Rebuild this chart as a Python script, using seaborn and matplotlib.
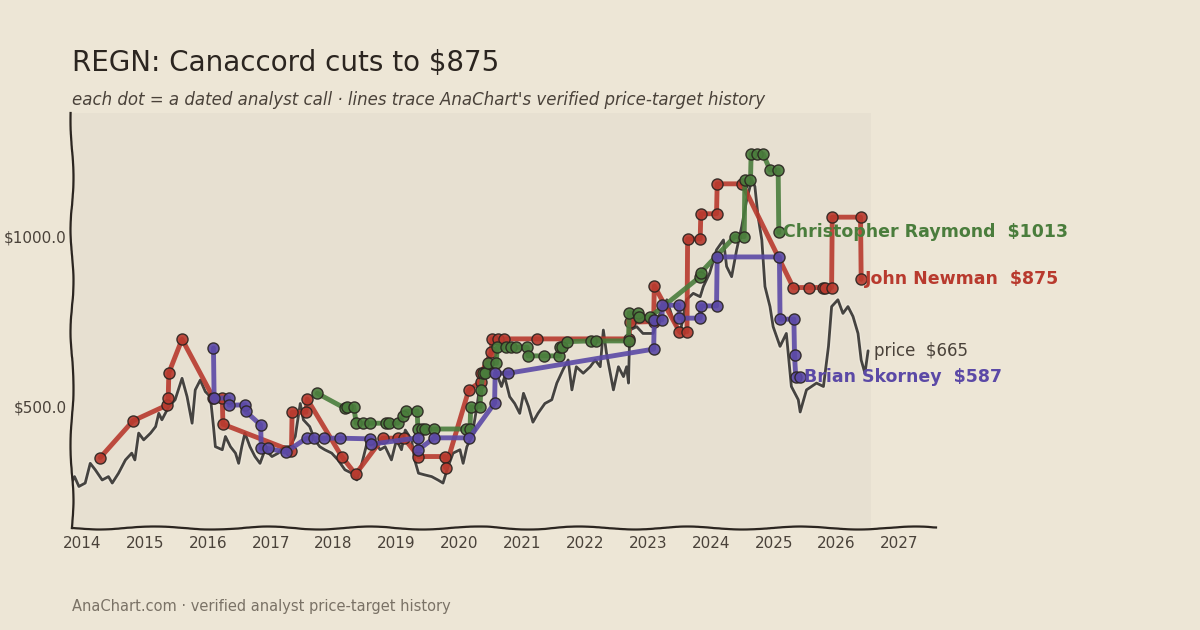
import pandas as pd
import seaborn as sns
import matplotlib.pyplot as plt
import matplotlib.patheffects as pe

# Colours
BG = '#ede6d6'
PANEL = '#e7e0d1'
INK = '#2b2520'
RED = '#b83a2e'
GREEN = '#4a7d3c'
PURPLE = '#5b49a6'

# Daily close (decimal years, USD)
price_dates = [2013.84, 2013.88, 2013.95, 2014.05, 2014.13, 2014.21, 2014.32, 2014.42, 2014.48, 2014.58,
               2014.69, 2014.79, 2014.84, 2014.90, 2014.98, 2015.09, 2015.17, 2015.22, 2015.27, 2015.38,
               2015.48, 2015.59, 2015.67, 2015.75, 2015.80, 2015.88, 2015.96, 2016.04, 2016.09, 2016.12,
               2016.23, 2016.28, 2016.36, 2016.44, 2016.49, 2016.54, 2016.59, 2016.67, 2016.75, 2016.83,
               2016.91, 2017.02, 2017.12, 2017.20, 2017.31, 2017.39, 2017.47, 2017.52, 2017.62, 2017.70,
               2017.78, 2017.86, 2017.97, 2018.07, 2018.18, 2018.29, 2018.37, 2018.45, 2018.53, 2018.63,
               2018.74, 2018.82, 2018.92, 2019.00, 2019.08, 2019.14, 2019.24, 2019.29, 2019.35, 2019.45,
               2019.56, 2019.66, 2019.74, 2019.82, 2019.90, 2020.01, 2020.06, 2020.12, 2020.20, 2020.28,
               2020.33, 2020.41, 2020.51, 2020.57, 2020.67, 2020.72, 2020.80, 2020.88, 2020.96, 2021.02,
               2021.10, 2021.17, 2021.25, 2021.36, 2021.47, 2021.55, 2021.65, 2021.73, 2021.79, 2021.86,
               2021.97, 2022.08, 2022.16, 2022.24, 2022.29, 2022.34, 2022.45, 2022.53, 2022.61, 2022.66,
               2022.69, 2022.71, 2022.82, 2022.92, 2023.08, 2023.19, 2023.30, 2023.40, 2023.51, 2023.61,
               2023.72, 2023.83, 2023.88, 2023.98, 2024.09, 2024.20, 2024.25, 2024.33, 2024.41, 2024.49,
               2024.57, 2024.65, 2024.70, 2024.75, 2024.81, 2024.86, 2024.94, 2024.99, 2025.10, 2025.20,
               2025.28, 2025.39, 2025.42, 2025.52, 2025.68, 2025.79, 2025.87, 2025.92, 2026.02, 2026.10,
               2026.18, 2026.26, 2026.34, 2026.39, 2026.45, 2026.50]
price_values = [280, 295, 266, 276, 334, 315, 285, 295, 276, 305,
                344, 364, 344, 423, 403, 423, 442, 481, 462, 501,
                521, 584, 530, 452, 550, 579, 545, 530, 442, 383,
                374, 413, 383, 364, 334, 383, 423, 383, 354, 334,
                374, 354, 364, 383, 383, 413, 510, 462, 442, 403,
                383, 374, 364, 344, 315, 305, 285, 334, 393, 403,
                374, 383, 344, 403, 374, 432, 403, 344, 305, 300,
                295, 285, 276, 324, 364, 374, 334, 383, 413, 501,
                570, 589, 618, 609, 560, 589, 530, 510, 481, 540,
                501, 455, 481, 510, 521, 570, 610, 638, 550, 618,
                599, 618, 638, 618, 726, 658, 550, 618, 589, 618,
                570, 726, 736, 716, 716, 775, 815, 756, 716, 815,
                834, 824, 854, 893, 962, 991, 913, 883, 962, 1030,
                1109, 1168, 1148, 1060, 991, 854, 795, 736, 678, 716,
                560, 521, 485, 550, 570, 560, 678, 795, 815, 775,
                795, 766, 716, 638, 599, 665]

# John Newman (Canaccord) price targets
jn_dates = [2014.29, 2014.81, 2015.35, 2015.37, 2015.38, 2015.59, 2016.09, 2016.23, 2016.24, 2017.33,
            2017.34, 2017.56, 2017.58, 2018.13, 2018.35, 2018.78, 2019.03, 2019.12, 2019.35, 2019.77,
            2019.78, 2020.15, 2020.34, 2020.35, 2020.51, 2020.52, 2020.62, 2020.71, 2021.24, 2022.70,
            2022.71, 2023.09, 2023.10, 2023.50, 2023.62, 2023.63, 2023.83, 2023.84, 2024.09, 2024.10,
            2024.50, 2025.31, 2025.56, 2025.79, 2025.82, 2025.92, 2025.93, 2026.38, 2026.39]
jn_targets = [351, 459, 505, 526, 600, 699, 526, 526, 449, 371,
              484, 484, 523, 354, 302, 408, 408, 408, 354, 354,
              321, 550, 574, 600, 661, 700, 700, 700, 700, 700,
              749, 751, 856, 721, 721, 994, 994, 1068, 1068, 1156,
              1156, 851, 851, 851, 851, 851, 1058, 1058, 875]

# Christopher Raymond price targets
cr_dates = [2017.74, 2018.18, 2018.22, 2018.32, 2018.36, 2018.47, 2018.58, 2018.83, 2018.88, 2019.02,
            2019.10, 2019.15, 2019.33, 2019.34, 2019.40, 2019.46, 2019.60, 2020.10, 2020.17, 2020.18,
            2020.33, 2020.34, 2020.38, 2020.40, 2020.46, 2020.59, 2020.60, 2020.74, 2020.82, 2020.90,
            2021.08, 2021.09, 2021.35, 2021.59, 2021.60, 2021.64, 2021.71, 2022.09, 2022.17, 2022.69,
            2022.70, 2022.84, 2022.85, 2023.03, 2023.83, 2023.84, 2024.38, 2024.53, 2024.54, 2024.63,
            2024.64, 2024.74, 2024.83, 2024.94, 2025.07, 2025.08]
cr_targets = [540, 496, 501, 501, 452, 452, 452, 452, 452, 452,
              472, 487, 488, 435, 435, 435, 435, 435, 435, 500,
              500, 550, 599, 599, 628, 628, 675, 675, 675, 675,
              675, 650, 650, 650, 675, 675, 692, 694, 694, 694,
              776, 776, 764, 764, 883, 895, 1001, 1001, 1166, 1166,
              1244, 1244, 1244, 1197, 1197, 1013]

# Brian Skorney price targets
bs_dates = [2016.09, 2016.10, 2016.33, 2016.34, 2016.59, 2016.60, 2016.84, 2016.85, 2016.95, 2017.24,
            2017.57, 2017.69, 2017.84, 2018.10, 2018.58, 2018.59, 2019.34, 2019.35, 2019.60, 2020.16,
            2020.56, 2020.57, 2020.78, 2023.09, 2023.10, 2023.22, 2023.23, 2023.49, 2023.50, 2023.83,
            2023.84, 2024.09, 2024.10, 2025.09, 2025.10, 2025.32, 2025.33, 2025.35, 2025.41]
bs_targets = [673, 526, 526, 505, 506, 487, 447, 378, 378, 367,
              408, 408, 408, 408, 406, 390, 409, 374, 409, 409,
              511, 599, 599, 670, 756, 756, 799, 799, 761, 761,
              797, 797, 941, 941, 758, 758, 652, 587, 587]

analysts = [
    ('John Newman', jn_dates, jn_targets, RED),
    ('Christopher Raymond', cr_dates, cr_targets, GREEN),
    ('Brian Skorney', bs_dates, bs_targets, PURPLE),
]

sns.set_style('white')
plt.rcParams['font.family'] = ['DejaVu Sans']

fig = plt.figure(figsize=(12, 6.3), dpi=100, facecolor=BG)
ax = fig.add_axes([0.06, 0.162, 0.72, 0.659])
ax.set_facecolor(BG)

x_min, x_max = 2013.84, 2027.58
ax.set_xlim(x_min, x_max)
ax.set_ylim(144, 1365)

# shaded panel behind the data
ax.axvspan(x_min, 2026.55, color=PANEL, zorder=0, lw=0)

# price line
sns.lineplot(x=price_dates, y=price_values, ax=ax, color='#454340', lw=2.0,
             estimator=None, sort=False, zorder=2,
             path_effects=[pe.Stroke(linewidth=4, foreground='#f1ebdf', alpha=0.6), pe.Normal()])

# analyst target histories (red under green under purple)
for z, (name, dates, targets, col) in enumerate(analysts):
    df = pd.DataFrame({'date': dates, 'target': targets})
    sns.lineplot(data=df, x='date', y='target', ax=ax, color=col, lw=3.5, alpha=0.9,
                 estimator=None, sort=False, marker='o', markersize=8,
                 markeredgecolor='#2a2420', markeredgewidth=1.0, zorder=3 + z)
    ax.annotate(f'{name}  ${targets[-1]}', xy=(dates[-1], targets[-1]), xytext=(3, 0),
                textcoords='offset points', va='center', ha='left', fontsize=12.5,
                fontweight='bold', color=col, annotation_clip=False, zorder=10)

ax.annotate(f'price  ${price_values[-1]}', xy=(price_dates[-1], price_values[-1]), xytext=(4, 0),
            textcoords='offset points', va='center', ha='left', fontsize=12,
            color='#4a423a', annotation_clip=False, zorder=10)

# axes cosmetics: only left + bottom, hand-drawn wobble
for side in ['top', 'right']:
    ax.spines[side].set_visible(False)
for side in ['left', 'bottom']:
    ax.spines[side].set_color(INK)
    ax.spines[side].set_linewidth(1.6)
    ax.spines[side].set_sketch_params(scale=1.5, length=120, randomness=2)

ax.set_xticks(range(2014, 2028))
ax.set_xticklabels([str(y) for y in range(2014, 2028)])
ax.set_yticks([500, 1000])
ax.set_yticklabels(['$500.0', '$1000.0'])
ax.tick_params(axis='both', length=0, labelsize=11, labelcolor='#4a423a')
ax.tick_params(axis='x', pad=6)
ax.tick_params(axis='y', pad=4)
ax.set_xlabel('')
ax.set_ylabel('')
ax.grid(False)

fig.text(0.06, 0.9, 'REGN: Canaccord cuts to $875', fontsize=20, color=INK, va='center', ha='left')
fig.text(0.06, 0.841, "each dot = a dated analyst call \u00b7 lines trace AnaChart's verified price-target history",
         fontsize=12, style='italic', color='#4a423a', va='center', ha='left')
fig.text(0.06, 0.038, 'AnaChart.com \u00b7 verified analyst price-target history',
         fontsize=10.5, color='#7a7266', va='center', ha='left')

fig.savefig('out.png', dpi=100, facecolor=BG)
